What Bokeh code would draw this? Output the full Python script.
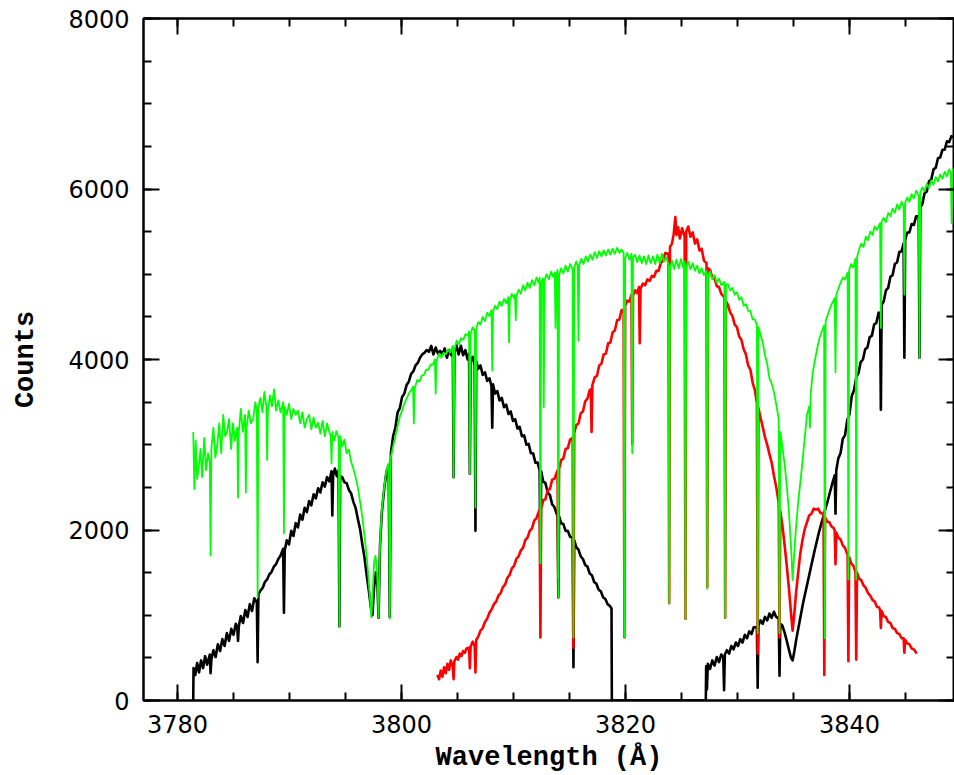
from bokeh.plotting import figure
from bokeh.models import Range1d, LinearAxis, FixedTicker, CustomJSTickFormatter
from bokeh.embed import file_html
from bokeh.resources import INLINE

# ---------------- data ----------------
x_major = [3780, 3800, 3820, 3840]
x_minor = [3780, 3785, 3790, 3795, 3800, 3805, 3810, 3815, 3820, 3825,
           3830, 3835, 3840, 3845]
y_major = [0, 2000, 4000, 6000, 8000]
y_minor = [0, 500, 1000, 1500, 2000, 2500, 3000, 3500, 4000, 4500,
           5000, 5500, 6000, 6500, 7000, 7500, 8000]

black_wl = [
    3781.40, 3781.43, 3781.58, 3781.75, 3781.92, 3782.10, 3782.28, 3782.46, 3782.64, 3782.88,
    3782.95, 3783.02, 3783.20, 3783.40, 3783.60, 3783.80, 3784.00, 3784.20, 3784.40, 3784.60,
    3784.80, 3785.00, 3785.20, 3785.33, 3785.40, 3785.47, 3785.65, 3785.85, 3786.05, 3786.25,
    3786.45, 3786.65, 3786.85, 3787.08, 3787.15, 3787.22, 3787.40, 3787.60, 3787.80, 3788.00,
    3788.20, 3788.40, 3788.60, 3788.80, 3789.00, 3789.20, 3789.43, 3789.50, 3789.57, 3789.75,
    3789.95, 3790.15, 3790.35, 3790.55, 3790.75, 3790.95, 3791.15, 3791.35, 3791.55, 3791.75,
    3791.95, 3792.15, 3792.35, 3792.55, 3792.75, 3792.95, 3793.15, 3793.35, 3793.55, 3793.75,
    3793.82, 3793.89, 3794.05, 3794.22, 3794.38, 3794.45, 3794.52, 3794.70, 3794.90, 3795.10,
    3795.30, 3795.50, 3795.70, 3795.90, 3796.10, 3796.30, 3796.50, 3796.70, 3796.90, 3797.10,
    3797.25, 3797.40, 3797.55, 3797.70, 3797.85, 3797.95, 3798.08, 3798.25, 3798.45, 3798.65,
    3798.85, 3798.95, 3799.05, 3799.25, 3799.45, 3799.65, 3799.85, 3800.05, 3800.25, 3800.45,
    3800.65, 3800.85, 3801.05, 3801.25, 3801.45, 3801.65, 3801.85, 3802.05, 3802.25, 3802.45,
    3802.65, 3802.85, 3803.05, 3803.25, 3803.45, 3803.65, 3803.85, 3804.05, 3804.25, 3804.45,
    3804.58, 3804.65, 3804.72, 3804.90, 3805.10, 3805.30, 3805.50, 3805.70, 3805.90, 3806.03,
    3806.10, 3806.17, 3806.35, 3806.53, 3806.60, 3806.67, 3806.85, 3807.05, 3807.25, 3807.45,
    3807.65, 3807.85, 3808.03, 3808.10, 3808.17, 3808.35, 3808.55, 3808.75, 3808.95, 3809.15,
    3809.35, 3809.55, 3809.75, 3809.95, 3810.15, 3810.35, 3810.55, 3810.75, 3810.95, 3811.15,
    3811.35, 3811.55, 3811.75, 3811.95, 3812.15, 3812.33, 3812.40, 3812.47, 3812.65, 3812.85,
    3813.05, 3813.25, 3813.45, 3813.65, 3813.85, 3813.93, 3814.00, 3814.07, 3814.25, 3814.45,
    3814.65, 3814.85, 3815.05, 3815.28, 3815.35, 3815.42, 3815.60, 3815.80, 3816.00, 3816.20,
    3816.40, 3816.60, 3816.80, 3817.00, 3817.20, 3817.40, 3817.60, 3817.80, 3818.00, 3818.20,
    3818.40, 3818.60, 3818.75, 3818.78, 3827.17, 3827.20, 3827.27, 3827.35, 3827.55, 3827.75,
    3827.95, 3828.15, 3828.35, 3828.55, 3828.73, 3828.80, 3828.87, 3829.05, 3829.25, 3829.45,
    3829.65, 3829.85, 3830.05, 3830.25, 3830.45, 3830.65, 3830.85, 3831.05, 3831.25, 3831.45,
    3831.73, 3831.80, 3831.87, 3832.05, 3832.25, 3832.45, 3832.65, 3832.85, 3833.05, 3833.25,
    3833.45, 3833.68, 3833.75, 3833.82, 3834.00, 3834.20, 3834.40, 3834.60, 3834.78, 3834.92,
    3835.08, 3835.25, 3835.45, 3835.65, 3835.85, 3836.05, 3836.25, 3836.45, 3836.65, 3836.85,
    3837.05, 3837.25, 3837.45, 3837.65, 3837.85, 3838.05, 3838.25, 3838.45, 3838.68, 3838.75,
    3838.82, 3839.00, 3839.20, 3839.40, 3839.60, 3839.80, 3840.00, 3840.20, 3840.40, 3840.60,
    3840.80, 3841.00, 3841.20, 3841.40, 3841.60, 3841.80, 3842.00, 3842.20, 3842.40, 3842.60,
    3842.73, 3842.80, 3842.87, 3843.05, 3843.25, 3843.45, 3843.65, 3843.85, 3844.05, 3844.25,
    3844.45, 3844.65, 3844.83, 3844.90, 3844.97, 3845.15, 3845.35, 3845.55, 3845.75, 3845.95,
    3846.18, 3846.25, 3846.32, 3846.50, 3846.70, 3846.90, 3847.10, 3847.30, 3847.50, 3847.70,
    3847.90, 3848.10, 3848.30, 3848.50, 3848.70, 3848.90, 3849.10, 3849.40,
]
black_counts = [
    0, 380, 300, 440, 330, 470, 380, 520, 420, 540,
    320, 480, 590, 510, 660, 580, 720, 640, 790, 700,
    840, 770, 900, 860, 700, 870, 990, 910, 1060, 980,
    1130, 1050, 1200, 1150, 450, 1240, 1290, 1320, 1390, 1420,
    1480, 1510, 1570, 1600, 1660, 1700, 1780, 1030, 1760, 1880,
    1830, 1990, 1930, 2080, 2030, 2180, 2120, 2260, 2210, 2340,
    2290, 2420, 2370, 2490, 2440, 2560, 2510, 2620, 2570, 2690,
    2170, 2640, 2720, 2630, 2700, 870, 2630, 2620, 2560, 2550,
    2470, 2430, 2330, 2260, 2130, 2010, 1830, 1670, 1460, 1270,
    1100, 1000, 1330, 1500, 1350, 970, 1820, 2220, 2480, 2680,
    2760, 980, 2900, 3100, 3200, 3380, 3430, 3560, 3600, 3700,
    3740, 3830, 3860, 3930, 3960, 4020, 4060, 4080, 4110, 4090,
    4160, 4060, 4140, 4070, 4100, 4060, 4130, 4020, 4110, 4050,
    4130, 2620, 4070, 4170, 4060, 4160, 4050, 4110, 4000, 4070,
    2660, 3990, 4030, 3930, 1990, 3980, 3890, 3930, 3820, 3850,
    3750, 3780, 3690, 3200, 3710, 3600, 3630, 3520, 3550, 3440,
    3470, 3360, 3390, 3280, 3300, 3190, 3210, 3100, 3110, 3000,
    3010, 2900, 2900, 2790, 2790, 2700, 1610, 2690, 2570, 2550,
    2440, 2410, 2300, 2270, 2190, 2190, 1210, 2160, 2080, 2070,
    1990, 1990, 1920, 1910, 390, 1880, 1800, 1770, 1690, 1660,
    1590, 1570, 1490, 1470, 1390, 1370, 1300, 1280, 1210, 1190,
    1130, 1110, 1080, 0, 0, 400, 130, 430, 370, 470,
    410, 510, 450, 540, 500, 120, 540, 590, 550, 640,
    600, 680, 640, 720, 680, 770, 730, 810, 780, 860,
    860, 150, 880, 940, 900, 980, 940, 1020, 970, 1040,
    980, 960, 290, 900, 880, 800, 700, 590, 500, 470,
    580, 720, 860, 1000, 1140, 1260, 1380, 1500, 1620, 1740,
    1850, 1960, 2060, 2150, 2250, 2340, 2440, 2540, 2640, 2190,
    2700, 2840, 2900, 3070, 3110, 3290, 3360, 3570, 3640, 3790,
    3840, 3970, 4000, 4120, 4140, 4260, 4280, 4410, 4430, 4550,
    4540, 3410, 4640, 4680, 4810, 4840, 4970, 4990, 5120, 5140,
    5260, 5270, 5360, 4020, 5400, 5490, 5490, 5590, 5580, 5680,
    5680, 4020, 5790, 5820, 5950, 5970, 6090, 6110, 6230, 6250,
    6360, 6370, 6460, 6460, 6560, 6550, 6620, 6600,
]

red_wl = [
    3803.20, 3803.35, 3803.50, 3803.65, 3803.80, 3803.95, 3804.10, 3804.25, 3804.40, 3804.58,
    3804.65, 3804.72, 3804.90, 3805.05, 3805.20, 3805.35, 3805.50, 3805.65, 3805.80, 3806.03,
    3806.10, 3806.17, 3806.35, 3806.53, 3806.60, 3806.67, 3806.85, 3807.05, 3807.25, 3807.45,
    3807.65, 3807.85, 3808.05, 3808.25, 3808.45, 3808.65, 3808.85, 3809.05, 3809.25, 3809.45,
    3809.65, 3809.85, 3810.05, 3810.25, 3810.45, 3810.65, 3810.85, 3811.05, 3811.25, 3811.45,
    3811.65, 3811.85, 3812.05, 3812.33, 3812.40, 3812.47, 3812.65, 3812.85, 3813.05, 3813.25,
    3813.45, 3813.65, 3813.93, 3814.00, 3814.07, 3814.25, 3814.45, 3814.65, 3814.85, 3815.05,
    3815.28, 3815.35, 3815.42, 3815.60, 3815.80, 3816.00, 3816.20, 3816.40, 3816.60, 3816.80,
    3816.90, 3816.97, 3817.04, 3817.25, 3817.45, 3817.65, 3817.85, 3818.05, 3818.25, 3818.45,
    3818.65, 3818.85, 3819.05, 3819.25, 3819.45, 3819.65, 3819.83, 3819.90, 3819.97, 3820.15,
    3820.35, 3820.53, 3820.60, 3820.67, 3820.85, 3821.05, 3821.20, 3821.27, 3821.34, 3821.55,
    3821.75, 3821.95, 3822.15, 3822.35, 3822.55, 3822.75, 3822.95, 3823.15, 3823.35, 3823.55,
    3823.83, 3823.90, 3823.97, 3824.15, 3824.30, 3824.45, 3824.55, 3824.70, 3824.85, 3825.05,
    3825.28, 3825.35, 3825.42, 3825.60, 3825.80, 3826.00, 3826.20, 3826.40, 3826.60, 3826.80,
    3827.00, 3827.23, 3827.30, 3827.37, 3827.55, 3827.75, 3827.95, 3828.15, 3828.35, 3828.55,
    3828.83, 3828.90, 3828.97, 3829.15, 3829.35, 3829.55, 3829.75, 3829.95, 3830.15, 3830.35,
    3830.55, 3830.75, 3830.95, 3831.15, 3831.35, 3831.55, 3831.73, 3831.80, 3831.87, 3832.05,
    3832.25, 3832.45, 3832.65, 3832.85, 3833.05, 3833.25, 3833.45, 3833.68, 3833.75, 3833.82,
    3834.00, 3834.20, 3834.40, 3834.60, 3834.78, 3834.92, 3835.06, 3835.22, 3835.40, 3835.60,
    3835.80, 3836.00, 3836.20, 3836.40, 3836.60, 3836.80, 3837.00, 3837.20, 3837.40, 3837.68,
    3837.75, 3837.82, 3838.00, 3838.20, 3838.40, 3838.60, 3838.68, 3838.75, 3838.82, 3839.00,
    3839.20, 3839.40, 3839.60, 3839.83, 3839.90, 3839.97, 3840.15, 3840.35, 3840.53, 3840.60,
    3840.67, 3840.85, 3841.05, 3841.25, 3841.45, 3841.65, 3841.85, 3842.05, 3842.25, 3842.45,
    3842.65, 3842.73, 3842.80, 3842.87, 3843.05, 3843.25, 3843.45, 3843.65, 3843.85, 3844.05,
    3844.25, 3844.45, 3844.65, 3844.83, 3844.90, 3844.97, 3845.15, 3845.35, 3845.55, 3845.75,
    3846.00,
]
red_counts = [
    300, 250, 350, 280, 390, 320, 430, 360, 470, 400,
    250, 460, 510, 480, 550, 520, 580, 560, 610, 620,
    380, 630, 690, 640, 330, 710, 750, 820, 850, 920,
    960, 1030, 1070, 1130, 1160, 1230, 1260, 1330, 1360, 1440,
    1470, 1550, 1580, 1660, 1690, 1760, 1790, 1880, 1910, 1990,
    2020, 2110, 2140, 2240, 740, 2250, 2350, 2360, 2470, 2480,
    2590, 2600, 2700, 1440, 2720, 2820, 2840, 2950, 2960, 3060,
    3080, 620, 3140, 3230, 3250, 3370, 3390, 3510, 3540, 3640,
    3650, 3150, 3700, 3790, 3810, 3930, 3950, 4060, 4070, 4190,
    4200, 4320, 4340, 4460, 4470, 4580, 4580, 740, 4630, 4690,
    4680, 4760, 3010, 4750, 4810, 4780, 4850, 4190, 4830, 4890,
    4870, 4940, 4920, 4980, 4970, 5040, 5040, 5130, 5160, 5250,
    5240, 1140, 5320, 5360, 5470, 5670, 5460, 5550, 5420, 5540,
    5440, 960, 5500, 5560, 5440, 5490, 5360, 5410, 5280, 5300,
    5160, 5130, 1330, 5070, 5050, 4960, 4950, 4860, 4850, 4770,
    4730, 970, 4680, 4640, 4550, 4510, 4410, 4380, 4270, 4230,
    4120, 4060, 3930, 3880, 3730, 3640, 3490, 550, 3430, 3320,
    3210, 3090, 3000, 2890, 2790, 2640, 2510, 2320, 740, 2220,
    2060, 1830, 1580, 1300, 1020, 820, 1000, 1250, 1480, 1720,
    1880, 2010, 2090, 2170, 2190, 2250, 2240, 2250, 2200, 2190,
    300, 2150, 2100, 2090, 2040, 2020, 1990, 1600, 1970, 1910,
    1890, 1820, 1790, 1710, 460, 1680, 1610, 1580, 1510, 480,
    1500, 1430, 1410, 1350, 1320, 1260, 1230, 1180, 1160, 1100,
    1090, 1060, 850, 1050, 990, 980, 920, 910, 850, 840,
    790, 780, 730, 730, 560, 710, 670, 660, 610, 600,
    550,
]

green_wl = [
    3781.40, 3781.50, 3781.62, 3781.75, 3781.90, 3782.05, 3782.20, 3782.38, 3782.55, 3782.72,
    3782.88, 3782.95, 3783.02, 3783.20, 3783.38, 3783.55, 3783.72, 3783.90, 3784.08, 3784.25,
    3784.42, 3784.60, 3784.78, 3784.95, 3785.12, 3785.33, 3785.40, 3785.47, 3785.65, 3785.82,
    3786.03, 3786.10, 3786.17, 3786.35, 3786.55, 3786.75, 3786.95, 3787.08, 3787.15, 3787.22,
    3787.40, 3787.58, 3787.75, 3787.93, 3788.00, 3788.07, 3788.25, 3788.43, 3788.62, 3788.80,
    3789.00, 3789.20, 3789.43, 3789.50, 3789.57, 3789.75, 3789.95, 3790.15, 3790.35, 3790.55,
    3790.75, 3790.95, 3791.15, 3791.35, 3791.55, 3791.75, 3791.95, 3792.15, 3792.35, 3792.55,
    3792.75, 3792.95, 3793.15, 3793.35, 3793.55, 3793.68, 3793.75, 3793.82, 3794.00, 3794.18,
    3794.38, 3794.45, 3794.52, 3794.70, 3794.90, 3795.10, 3795.30, 3795.50, 3795.70, 3795.90,
    3796.10, 3796.30, 3796.50, 3796.70, 3796.90, 3797.05, 3797.18, 3797.30, 3797.42, 3797.55,
    3797.68, 3797.82, 3797.95, 3798.08, 3798.25, 3798.45, 3798.65, 3798.85, 3798.95, 3799.05,
    3799.25, 3799.45, 3799.65, 3799.85, 3800.05, 3800.25, 3800.45, 3800.65, 3800.85, 3801.03,
    3801.10, 3801.17, 3801.40, 3801.60, 3801.80, 3802.00, 3802.20, 3802.40, 3802.60, 3802.80,
    3802.98, 3803.05, 3803.12, 3803.35, 3803.55, 3803.75, 3803.95, 3804.15, 3804.35, 3804.58,
    3804.65, 3804.72, 3804.92, 3805.12, 3805.32, 3805.52, 3805.72, 3805.92, 3806.03, 3806.10,
    3806.17, 3806.35, 3806.53, 3806.60, 3806.67, 3806.85, 3807.05, 3807.25, 3807.45, 3807.65,
    3807.85, 3808.03, 3808.10, 3808.17, 3808.35, 3808.55, 3808.75, 3808.95, 3809.15, 3809.35,
    3809.53, 3809.60, 3809.67, 3809.85, 3810.05, 3810.13, 3810.20, 3810.27, 3810.45, 3810.65,
    3810.85, 3811.05, 3811.25, 3811.45, 3811.65, 3811.85, 3812.05, 3812.25, 3812.33, 3812.40,
    3812.47, 3812.63, 3812.70, 3812.77, 3812.95, 3813.15, 3813.35, 3813.55, 3813.68, 3813.75,
    3813.82, 3813.93, 3814.00, 3814.07, 3814.25, 3814.45, 3814.65, 3814.85, 3815.05, 3815.28,
    3815.35, 3815.42, 3815.60, 3815.73, 3815.80, 3815.87, 3816.05, 3816.25, 3816.45, 3816.65,
    3816.85, 3817.05, 3817.25, 3817.45, 3817.65, 3817.85, 3818.05, 3818.25, 3818.45, 3818.65,
    3818.85, 3819.05, 3819.25, 3819.45, 3819.65, 3819.83, 3819.90, 3819.97, 3820.15, 3820.35,
    3820.53, 3820.60, 3820.67, 3820.85, 3821.05, 3821.25, 3821.45, 3821.65, 3821.85, 3822.05,
    3822.25, 3822.45, 3822.65, 3822.85, 3823.05, 3823.25, 3823.45, 3823.65, 3823.83, 3823.90,
    3823.97, 3824.15, 3824.35, 3824.55, 3824.75, 3824.95, 3825.15, 3825.28, 3825.35, 3825.42,
    3825.60, 3825.80, 3826.00, 3826.20, 3826.40, 3826.60, 3826.80, 3827.00, 3827.23, 3827.30,
    3827.37, 3827.55, 3827.75, 3827.95, 3828.15, 3828.35, 3828.55, 3828.83, 3828.90, 3828.97,
    3829.15, 3829.35, 3829.55, 3829.75, 3829.95, 3830.15, 3830.35, 3830.55, 3830.75, 3830.95,
    3831.15, 3831.35, 3831.55, 3831.73, 3831.80, 3831.87, 3832.05, 3832.25, 3832.45, 3832.65,
    3832.85, 3833.05, 3833.25, 3833.45, 3833.68, 3833.75, 3833.82, 3834.00, 3834.20, 3834.40,
    3834.60, 3834.78, 3834.92, 3835.06, 3835.22, 3835.40, 3835.60, 3835.80, 3836.00, 3836.20,
    3836.40, 3836.47, 3836.54, 3836.72, 3836.90, 3837.10, 3837.30, 3837.50, 3837.73, 3837.80,
    3837.87, 3838.05, 3838.25, 3838.45, 3838.68, 3838.75, 3838.82, 3839.00, 3839.20, 3839.40,
    3839.60, 3839.83, 3839.90, 3839.97, 3840.15, 3840.35, 3840.53, 3840.60, 3840.67, 3840.85,
    3841.05, 3841.25, 3841.45, 3841.65, 3841.85, 3842.05, 3842.25, 3842.45, 3842.73, 3842.80,
    3842.87, 3843.05, 3843.25, 3843.45, 3843.65, 3843.85, 3844.05, 3844.25, 3844.45, 3844.65,
    3844.83, 3844.90, 3844.97, 3845.15, 3845.35, 3845.55, 3845.75, 3845.95, 3846.18, 3846.25,
    3846.32, 3846.50, 3846.70, 3846.90, 3847.10, 3847.30, 3847.50, 3847.70, 3847.90, 3848.10,
    3848.30, 3848.50, 3848.70, 3848.90, 3849.05, 3849.12, 3849.19, 3849.40,
]
green_counts = [
    3150, 2480, 3050, 2600, 2750, 2950, 2620, 3080, 2700, 2900,
    2800, 1700, 2950, 3200, 2850, 3000, 3250, 2900, 3350, 3100,
    3150, 3300, 2950, 3250, 3050, 3200, 2380, 3150, 3420, 3150,
    3350, 2440, 3200, 3400, 3250, 3300, 3500, 3400, 1210, 3450,
    3550, 3380, 3620, 3450, 2820, 3400, 3580, 3450, 3650, 3400,
    3520, 3380, 3500, 1960, 3450, 3350, 3480, 3300, 3420, 3350,
    3400, 3250, 3380, 3200, 3300, 3350, 3180, 3320, 3200, 3260,
    3130, 3280, 3100, 3250, 3150, 3100, 2780, 3150, 3050, 3160,
    3080, 860, 3100, 2980, 3060, 2900, 2940, 2800, 2720, 2620,
    2500, 2330, 2150, 1920, 1680, 1440, 1200, 975, 1250, 1620,
    1700, 1500, 975, 1850, 2250, 2500, 2700, 2780, 960, 2860,
    2980, 3100, 3220, 3330, 3400, 3480, 3540, 3600, 3640, 3680,
    3250, 3660, 3760, 3740, 3810, 3820, 3880, 3880, 3940, 3940,
    4000, 3600, 3980, 4070, 4020, 4080, 4060, 4120, 4080, 4160,
    2620, 4110, 4220, 4180, 4250, 4230, 4300, 4280, 4330, 2660,
    4300, 4380, 4340, 2260, 4360, 4440, 4410, 4500, 4450, 4550,
    4510, 4580, 3870, 4560, 4630, 4590, 4680, 4630, 4710, 4660,
    4730, 4200, 4690, 4770, 4720, 4760, 4460, 4750, 4820, 4770,
    4870, 4810, 4900, 4840, 4930, 4870, 4960, 4900, 4960, 1610,
    4910, 4950, 3440, 4930, 5000, 4940, 5030, 4970, 5020, 4370,
    4990, 5050, 1210, 4990, 5070, 5010, 5100, 5030, 5120, 5060,
    740, 5080, 5150, 5100, 4220, 5110, 5180, 5120, 5210, 5150,
    5230, 5170, 5260, 5190, 5270, 5210, 5280, 5220, 5290, 5230,
    5300, 5240, 5310, 5250, 5290, 5250, 740, 5190, 5250, 5170,
    5240, 2900, 5190, 5230, 5140, 5220, 5130, 5210, 5120, 5220,
    5130, 5210, 5120, 5230, 5130, 5240, 5150, 5200, 5110, 1140,
    5070, 5160, 5060, 5170, 5070, 5180, 5080, 5150, 960, 5090,
    5150, 5060, 5130, 5040, 5100, 5010, 5070, 4990, 5040, 1310,
    4990, 5030, 4940, 4990, 4900, 4950, 4870, 4910, 970, 4880,
    4880, 4810, 4840, 4760, 4790, 4700, 4730, 4630, 4650, 4570,
    4570, 4470, 4470, 4400, 790, 4380, 4300, 4200, 4050, 3950,
    3780, 3720, 3620, 3480, 3300, 790, 3150, 2980, 2780, 2520,
    2200, 1800, 1410, 1720, 2020, 2300, 2550, 2800, 3080, 3350,
    3450, 3200, 3600, 3850, 3980, 4120, 4240, 4320, 4400, 730,
    4450, 4520, 4600, 4660, 4720, 3850, 4760, 4830, 4900, 4960,
    4940, 5020, 1420, 5050, 5120, 5080, 5180, 1420, 5200, 5290,
    5360, 5320, 5440, 5400, 5500, 5460, 5560, 5520, 5600, 4370,
    5620, 5660, 5610, 5720, 5680, 5770, 5720, 5820, 5760, 5850,
    5800, 4760, 5840, 5900, 5850, 5940, 5890, 5980, 5920, 4020,
    5960, 6020, 5970, 6060, 6010, 6100, 6050, 6140, 6090, 6170,
    6120, 6200, 6150, 6230, 6180, 5600, 6220, 6250,
]

assert len(black_wl) == len(black_counts)
assert len(red_wl) == len(red_counts)
assert len(green_wl) == len(green_counts)

# ---------------- figure ----------------
p = figure(width=954, height=775,
           x_range=Range1d(3776.96, 3849.375), y_range=Range1d(0, 8000),
           output_backend="svg", toolbar_location=None,
           min_border_left=143, min_border_right=0,
           min_border_top=18, min_border_bottom=75,
           x_axis_label="Wavelength (Å)", y_axis_label="Counts")
p.xgrid.visible = False
p.ygrid.visible = False
p.outline_line_color = "black"
p.outline_line_width = 2
p.background_fill_color = "white"
p.border_fill_color = "white"

xt = FixedTicker(ticks=x_major, minor_ticks=x_minor)
yt = FixedTicker(ticks=y_major, minor_ticks=y_minor)


def style(ax):
    ax.axis_line_color = "black"
    ax.axis_line_width = 2
    ax.major_tick_in = 16
    ax.major_tick_out = 0
    ax.minor_tick_in = 8
    ax.minor_tick_out = 0
    ax.major_tick_line_color = "black"
    ax.minor_tick_line_color = "black"
    ax.major_tick_line_width = 2
    ax.minor_tick_line_width = 2
    ax.major_label_text_font = "DejaVu Sans"
    ax.major_label_text_font_size = "24px"
    ax.major_label_text_color = "black"
    ax.axis_label_text_font = "Liberation Mono"
    ax.axis_label_text_font_style = "bold"
    ax.axis_label_text_font_size = "27px"
    ax.axis_label_text_color = "black"


xa = p.xaxis[0]
xa.ticker = xt
style(xa)
xa.major_label_standoff = 14
xa.axis_label_standoff = 7

ya = p.yaxis[0]
ya.ticker = yt
style(ya)
ya.major_label_standoff = 14
ya.axis_label_standoff = 24

blank = CustomJSTickFormatter(code="return '';")

top = LinearAxis(ticker=xt, formatter=blank)
style(top)
top.major_label_standoff = 0
p.add_layout(top, "above")

right = LinearAxis(ticker=yt, formatter=blank)
style(right)
right.major_label_standoff = 0
p.add_layout(right, "right")

p.line(black_wl, black_counts, line_color="#000000", line_width=2.6, line_join="round")
p.line(red_wl, red_counts, line_color="#ff0000", line_width=2.6, line_join="round")
p.line(green_wl, green_counts, line_color="#00ff00", line_width=1.8, line_join="round")

open("out.html", "w").write(file_html(p, INLINE))
